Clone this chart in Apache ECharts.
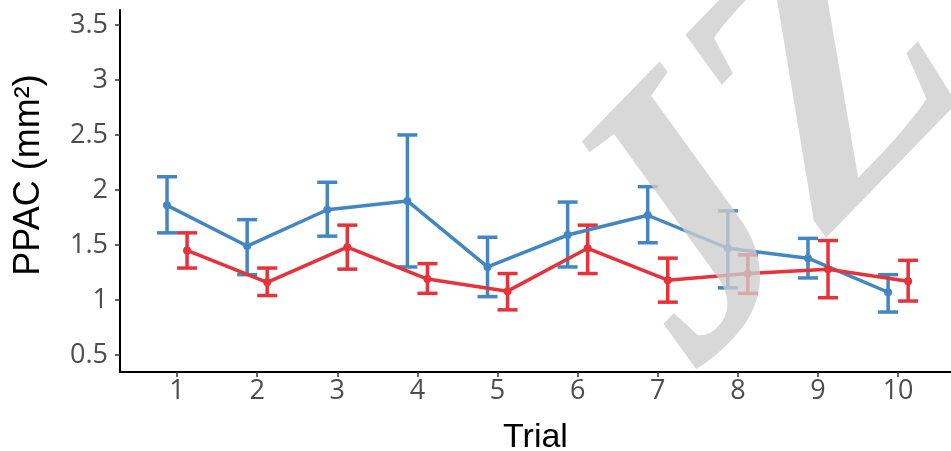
<!DOCTYPE html>
<html lang="en" style="height: 100%">
<head>
  <meta charset="utf-8">
</head>
<body style="height: 100%; margin: 0; background: #fff">
  <div id="container" style="width: 951px; height: 451px"></div>

  <script type="text/javascript" src="https://cdn.jsdelivr.net/npm/echarts@6/dist/echarts.min.js"></script>
  <script type="text/javascript">
    // values
    var trials = [1, 2, 3, 4, 5, 6, 7, 8, 9, 10];
    var blueMean = [1.86, 1.49, 1.82, 1.90, 1.30, 1.59, 1.77, 1.47, 1.38, 1.07];
    var blueLow  = [1.61, 1.23, 1.58, 1.30, 1.03, 1.30, 1.52, 1.11, 1.20, 0.89];
    var blueHigh = [2.12, 1.73, 2.07, 2.50, 1.57, 1.89, 2.03, 1.81, 1.56, 1.23];
    var redMean  = [1.45, 1.16, 1.48, 1.19, 1.08, 1.47, 1.18, 1.24, 1.28, 1.17];
    var redLow   = [1.29, 1.04, 1.28, 1.06, 0.91, 1.24, 0.98, 1.06, 1.02, 0.99];
    var redHigh  = [1.61, 1.29, 1.68, 1.33, 1.24, 1.68, 1.38, 1.41, 1.54, 1.36];
    var yTicks = [0.5, 1, 1.5, 2, 2.5, 3, 3.5];

    var dodge = 0.125;
    var blueColor = '#4386c1';
    var redColor = '#e6323a';

    var myChart = echarts.init(document.getElementById('container'), null, { renderer: 'canvas' });

    function points(mean, shift) {
      return trials.map(function (t, i) { return [t + shift, mean[i]]; });
    }
    function bars(low, high, shift) {
      return trials.map(function (t, i) { return [t + shift, low[i], high[i]]; });
    }

    function errorBar(color) {
      return function (params, api) {
        var lo = api.coord([api.value(0), api.value(1)]);
        var hi = api.coord([api.value(0), api.value(2)]);
        var w = 10;
        var st = { stroke: color, lineWidth: 3.5 };
        return {
          type: 'group',
          children: [
            { type: 'line', shape: { x1: lo[0], y1: lo[1], x2: hi[0], y2: hi[1] }, style: st },
            { type: 'line', shape: { x1: lo[0] - w, y1: lo[1], x2: lo[0] + w, y2: lo[1] }, style: st },
            { type: 'line', shape: { x1: hi[0] - w, y1: hi[1], x2: hi[0] + w, y2: hi[1] }, style: st }
          ]
        };
      };
    }

    var tickLabel = { color: '#4d4d4d', fontSize: 27, fontFamily: 'Open Sans' };

    var option = {
      animation: false,
      backgroundColor: '#fff',
      grid: { left: 120, right: 0, top: 10, bottom: 79, outerBoundsMode: 'none', containLabel: false },
      xAxis: {
        type: 'value',
        min: 0.288,
        max: 10.66,
        name: 'Trial',
        nameLocation: 'middle',
        nameGap: 49,
        nameTextStyle: { color: '#000', fontSize: 34, fontFamily: 'Liberation Sans' },
        axisLine: { show: true, onZero: false, lineStyle: { color: '#000', width: 2 } },
        axisTick: { show: true, length: 5, customValues: trials, lineStyle: { color: '#333', width: 1.5 } },
        axisLabel: Object.assign({ customValues: trials, margin: 6 }, tickLabel),
        splitLine: { show: false }
      },
      yAxis: {
        type: 'value',
        min: 0.345,
        max: 3.636,
        name: 'PPAC (mm²)',
        nameLocation: 'middle',
        nameGap: 73,
        nameRotate: 90,
        nameTextStyle: { color: '#000', fontSize: 36, fontFamily: 'Liberation Sans', padding: [0, 0, 0, 32] },
        axisLine: { show: true, onZero: false, lineStyle: { color: '#000', width: 2 } },
        axisTick: { show: true, length: 5, customValues: yTicks, lineStyle: { color: '#333', width: 1.5 } },
        axisLabel: Object.assign({ customValues: yTicks, margin: 12 }, tickLabel),
        splitLine: { show: false }
      },
      // grey "JZUS" watermark lying over the plot
      graphic: [{
        type: 'text',
        z: 100,
        x: 762,
        y: 432,
        rotation: 0.8,
        silent: true,
        style: {
          text: 'JZUS',
          fontFamily: 'Liberation Serif',
          fontStyle: 'italic',
          fontWeight: 'bold',
          fontSize: 370,
          fill: 'rgba(205,205,205,0.78)',
          verticalAlign: 'bottom'
        }
      }],
      series: [
        {
          type: 'custom',
          renderItem: errorBar(blueColor),
          data: bars(blueLow, blueHigh, -dodge),
          encode: { x: 0, y: [1, 2] },
          z: 2
        },
        {
          type: 'line',
          data: points(blueMean, -dodge),
          symbol: 'circle',
          symbolSize: 8,
          lineStyle: { color: blueColor, width: 3.5 },
          itemStyle: { color: blueColor },
          z: 3
        },
        {
          type: 'custom',
          renderItem: errorBar(redColor),
          data: bars(redLow, redHigh, dodge),
          encode: { x: 0, y: [1, 2] },
          z: 2
        },
        {
          type: 'line',
          data: points(redMean, dodge),
          symbol: 'circle',
          symbolSize: 8,
          lineStyle: { color: redColor, width: 3.5 },
          itemStyle: { color: redColor },
          z: 3
        }
      ]
    };

    myChart.setOption(option);
    window.addEventListener('resize', myChart.resize);
  </script>
</body>
</html>
